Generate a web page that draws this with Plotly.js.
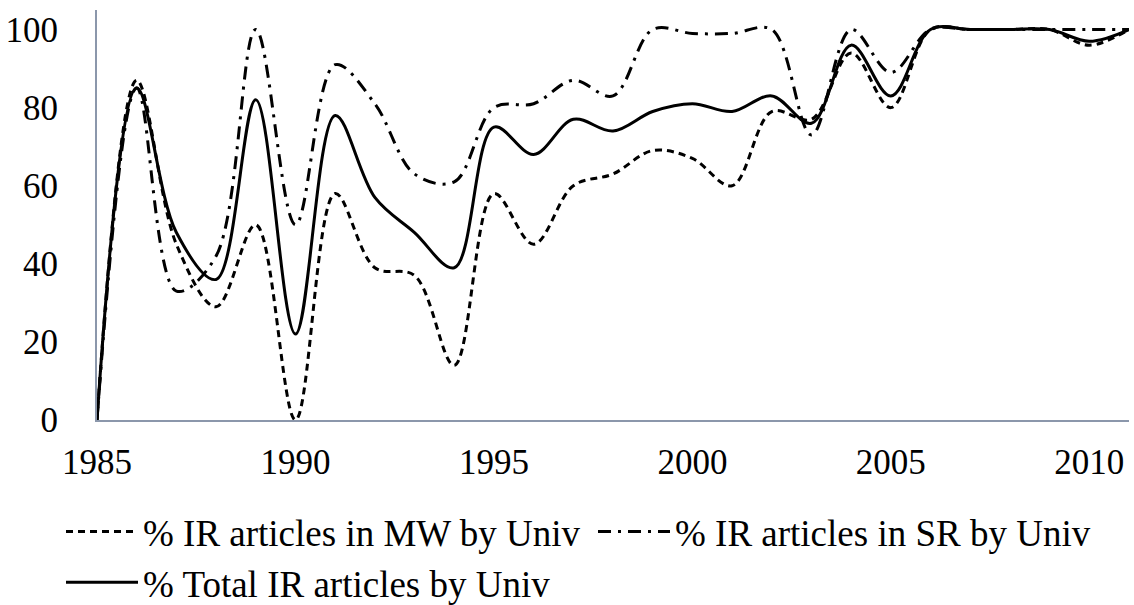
<!DOCTYPE html>
<html>
<head>
<meta charset="utf-8">
<script src="https://cdn.plot.ly/plotly-3.0.1.min.js"></script>
<style>
html,body{margin:0;padding:0;background:#fff;}
#chart{width:1134px;height:605px;}
</style>
</head>
<body>
<div id="chart"></div>
<script>
const years = [1985,1986,1987,1988,1989,1990,1991,1992,1993,1994,1995,1996,1997,1998,1999,2000,2001,2002,2003,2004,2005,2006,2007,2008,2009,2010,2011];
const mwUniv    = [0,87,45,29,50,0,58,39,37,14,58,45,60,63,69,67,60,79,77,94,80,100,100,100,100,96,100];
const srUniv    = [0,85,33,42,100,50,91,81,63,61,80,81,87,83,100,99,99,100,73,100,89,100,100,100,100,100,100];
const totalUniv = [0,85,48,36,82,22,78,57,48,39,75,68,77,74,79,81,79,83,76,96,83,100,100,100,100,97,100];
const xTicks = [1985,1990,1995,2000,2005,2010];
const yTicks = [0,20,40,60,80,100];

const nameMW = '% IR articles in MW by Univ';
const nameSR = '% IR articles in SR by Univ';
const nameTotal = '% Total IR articles by Univ';

const fam = 'Liberation Serif';
const tickFont = {family: fam, size: 35, color: '#000'};
const legFont = {family: fam, size: 37, color: '#000'};

const traces = [
  {x: years, y: mwUniv, name: nameMW, legend: 'legend', mode: 'lines', line: {color: '#000', width: 3, dash: '7px,5px', shape: 'spline', smoothing: 1}},
  {x: years, y: srUniv, name: nameSR, legend: 'legend2', mode: 'lines', line: {color: '#000', width: 3, dash: '13px,7px,3px,7px', shape: 'spline', smoothing: 1}},
  {x: years, y: totalUniv, name: nameTotal, legend: 'legend3', mode: 'lines', line: {color: '#000', width: 3, shape: 'spline', smoothing: 1}}
];

function leg(x, y) {
  return {orientation: 'h', xref: 'container', yref: 'container', x: x, xanchor: 'left', y: y, yanchor: 'top', font: legFont, itemwidth: 72, bgcolor: 'rgba(0,0,0,0)'};
}

const layout = {
  width: 1134, height: 605,
  margin: {l: 97, r: 5, t: 10, b: 185, autoexpand: false},
  paper_bgcolor: '#fff', plot_bgcolor: '#fff',
  font: tickFont,
  showlegend: true,
  legend: leg(61 / 1134, 0.172),
  legend2: leg(593 / 1134, 0.172),
  legend3: leg(61 / 1134, 0.088),
  xaxis: {range: [1985, 2011], tickvals: xTicks, showgrid: false, zeroline: false, showline: true, linecolor: '#8b97ab', linewidth: 2, ticks: '', tickfont: tickFont, ticklabelstandoff: 10},
  yaxis: {range: [0, 105], tickvals: yTicks, showgrid: false, zeroline: false, showline: true, linecolor: '#8b97ab', linewidth: 2, ticks: '', tickfont: tickFont, ticklabelstandoff: 30}
};

Plotly.newPlot('chart', traces, layout, {staticPlot: true, displayModeBar: false});
</script>
</body>
</html>
